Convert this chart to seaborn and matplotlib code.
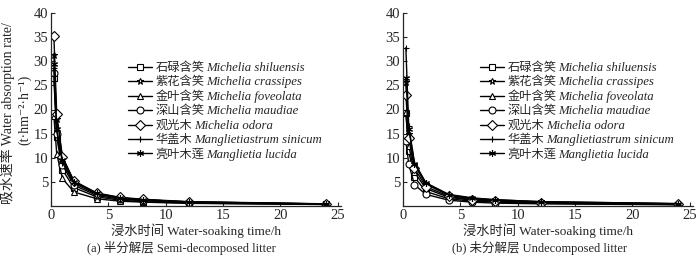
import pandas as pd
import numpy as np
import matplotlib
matplotlib.use("Agg")
import matplotlib.pyplot as plt
import seaborn as sns

sns.set_style("ticks")
plt.rcParams['font.family'] = ['Liberation Serif', 'Noto Sans CJK SC', 'DejaVu Serif']

hours = [0.25, 0.5, 1, 2, 4, 6, 8, 12, 24]

species = ['石碌含笑', '紫花含笑', '金叶含笑', '深山含笑', '观光木', '华盖木', '亮叶木莲']
latin = ['Michelia shiluensis', 'Michelia crassipes', 'Michelia foveolata',
         'Michelia maudiae', 'Michelia odora', 'Manglietiastrum sinicum', 'Manglietia lucida']
marker_list = ['s', '*', '^', 'o', 'D', '+', (6, 2, 0)]

# (a) semi-decomposed litter
semi = {
    '石碌含笑': [26.5, 14.2, 7.5, 3.8, 1.9, 1.2, 0.9, 0.6, 0.33],
    '紫花含笑': [31.3, 18.0, 10.0, 5.1, 2.6, 1.7, 1.3, 0.85, 0.42],
    '金叶含笑': [18.7, 10.8, 5.7, 2.9, 1.5, 1.0, 0.8, 0.55, 0.3],
    '深山含笑': [27.5, 15.0, 8.5, 4.3, 2.2, 1.4, 1.1, 0.7, 0.38],
    '观光木': [35.3, 19.0, 10.2, 5.2, 2.7, 1.8, 1.4, 0.9, 0.45],
    '华盖木': [28.5, 15.5, 9.0, 4.7, 2.4, 1.6, 1.2, 0.8, 0.4],
    '亮叶木莲': [29.5, 16.0, 9.5, 5.0, 2.6, 1.7, 1.3, 0.85, 0.42],
}
# (b) undecomposed litter
undec = {
    '石碌含笑': [19.2, 11.3, 6.0, 3.0, 1.5, 1.0, 0.8, 0.55, 0.3],
    '紫花含笑': [25.6, 15.0, 8.5, 4.5, 2.2, 1.5, 1.2, 0.8, 0.45],
    '金叶含笑': [19.5, 12.5, 7.0, 3.6, 1.8, 1.2, 0.9, 0.65, 0.35],
    '深山含笑': [13.5, 8.7, 4.4, 2.4, 1.2, 0.8, 0.6, 0.45, 0.25],
    '观光木': [23.0, 14.0, 7.8, 4.0, 2.0, 1.3, 1.0, 0.7, 0.4],
    '华盖木': [32.8, 16.5, 9.0, 4.8, 2.4, 1.7, 1.3, 0.9, 0.5],
    '亮叶木莲': [26.5, 16.0, 8.8, 4.7, 2.3, 1.6, 1.3, 0.9, 0.48],
}

W, H = 700, 258
fig = plt.figure(figsize=(7, 2.58), dpi=100)
ax1 = fig.add_axes([51/W, 1-206/H, 290/W, 193/H])
ax2 = fig.add_axes([403/W, 1-206/H, 290/W, 193/H])

legends = []
for ax, d, leg_x, cap, cap_x in [(ax1, semi, 128, '(a) 半分解层 Semi-decomposed litter', 181),
                                 (ax2, undec, 480, '(b) 未分解层 Undecomposed litter', 539)]:
    for sp, mk in zip(species, marker_list):
        sns.lineplot(x=hours, y=d[sp], marker=mk, color='black', linewidth=1.0,
                     markersize=5, markerfacecolor='white', markeredgecolor='black',
                     markeredgewidth=0.8, ax=ax)
    ax.set_xlim(0, 25.3)
    ax.set_ylim(0, 40)
    ax.set_xticks([0, 5, 10, 15, 20, 25])
    ax.set_yticks([5, 10, 15, 20, 25, 30, 35, 40])
    ax.tick_params(direction='in', length=3, width=0.8, labelsize=10.5, pad=2)
    sns.despine(ax=ax)
    for s in ax.spines.values():
        s.set_linewidth(0.9)
    ax.set_xlabel('浸水时间 Water-soaking time/h', fontsize=9.5, labelpad=1)
    ax.set_ylabel('')
    fig.text(cap_x/W, 1-248/H, cap, ha='center', va='center', fontsize=9)
    leg = ax.legend(ax.get_lines(), species, loc='upper left',
                    bbox_to_anchor=(leg_x/W, 1-62/H), bbox_transform=fig.transFigure,
                    frameon=False, fontsize=8.8, handlelength=2.0, handletextpad=0.25,
                    labelspacing=0.2, borderpad=0, borderaxespad=0)
    legends.append(leg)

fig.text(8/W, 1-113/H, '吸水速率 Water absorption rate/', rotation=90,
         ha='center', va='center', fontsize=10)
fig.text(25/W, 1-110/H, '(t·hm\u207b\u00b2·h\u207b\u00b9)', rotation=90,
         ha='center', va='center', fontsize=10)

# italic Latin names placed right after the Chinese legend labels
fig.canvas.draw()
renderer = fig.canvas.get_renderer()
for leg in legends:
    for t, name in zip(leg.get_texts(), latin):
        bb = t.get_window_extent(renderer)
        fig.text((bb.x1 + 2) / W, (bb.y0 + bb.y1) / 2 / H, name, style='italic',
                 ha='left', va='center', fontsize=9.2)

fig.savefig('out.png', dpi=100)
